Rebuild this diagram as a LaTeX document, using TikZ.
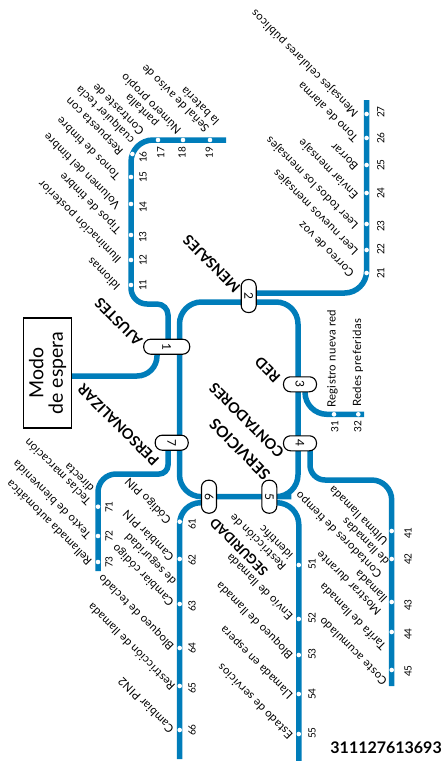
\documentclass[tikz,border=0pt]{standalone}
\usepackage{fontspec}
\setmainfont{Lato}
\usetikzlibrary{backgrounds}
\definecolor{lineblue}{HTML}{007DBA}
\tikzset{
  x=1pt,y=-1pt,
  metro/.style={draw=lineblue,line width=5.5pt,line cap=butt},
  stadium/.style={draw=black,fill=white,line width=1.1pt,rounded corners=7pt,inner sep=0pt,rotate=-90,font=\fontsize{12}{12}\selectfont},
  stn/.style={circle,fill=white,inner sep=0pt,minimum size=4.6pt},
  num/.style={rotate=90,inner sep=0pt,font=\fontsize{10}{10}\selectfont},
  lbl/.style={rotate=135,anchor=west,inner sep=0pt,text height=8pt,text depth=2pt,font=\fontsize{11.4}{12}\selectfont\addfontfeatures{LetterSpace=3}},
  head/.style={rotate=135,anchor=west,inner sep=0pt,text height=10pt,text depth=0pt,font=\fontsize{14.5}{15}\selectfont\bfseries},
  sidelbl/.style={rotate=90,anchor=west,inner sep=0pt,text height=8pt,text depth=2pt,font=\fontsize{11.4}{12}\selectfont\addfontfeatures{LetterSpace=3}},
}
\begin{document}
\begin{tikzpicture}
\useasboundingbox (0,0) rectangle (443,761);
% junction stadiums
\node[stadium,minimum width=15pt,minimum height=46pt] (s1) at (166.7,346.7) {1};
\node[stadium,minimum width=33pt,minimum height=15pt] (s2) at (248.7,296) {2};
\node[stadium,minimum width=15pt,minimum height=33pt] (s3) at (300,384.3) {3};
\node[stadium,minimum width=15pt,minimum height=33pt] (s4) at (300,443.3) {4};
\node[stadium,minimum width=33pt,minimum height=15pt] (s5) at (269.3,496.7) {5};
\node[stadium,minimum width=33pt,minimum height=15pt] (s6) at (209,496.7) {6};
\node[stadium,minimum width=15pt,minimum height=33pt] (s7) at (171.7,442.7) {7};
% standby box
\node[draw=black,line width=1.4pt,rotate=90,minimum width=110pt,minimum height=48pt,inner sep=0pt,align=center,font=\fontsize{19.5}{19.5}\selectfont] (m) at (47.5,373) {Modo\\de espera};
% stations and their numbers
\foreach \n/\x/\y/\tx/\ty in {
 11/131/285/142.7/285,12/131/260/143/260,13/131/235/142.7/237,14/131/204/143/207,15/131/177/143/177,16/132.4/154/143/157,
 17/158/140/160.7/152.7,18/183/140/182/152.7,19/210/140/209.3/152.7,
 21/366.6/273/380.7/273,22/366.6/250/380.7/249,23/366.6/224/380.7/226,24/366.6/193/380.7/193,25/366.6/165/380.7/165,26/366.6/138/380.7/138,27/366.6/114/380.7/112,
 31/334/414.3/334.7/426.7,32/358.3/414.3/357.7/426.7,
 41/391.7/531/408/533,42/391.7/559/408/559,43/391.7/602/408/605,44/391.7/632/408/634,45/391.7/670/408/671,
 51/298.8/565/312/564,52/298.8/619/312/618,53/298.8/655/312/654,54/298.8/694/312/694,55/298.8/734/312/733,
 61/179.7/521.7/192/524,62/179.7/559/192/560,63/179.7/604/192/606,64/179.7/648/192/648,65/179.7/686/192/688,66/179.7/730/192/730,
 71/98/506.7/109/507,72/98/536/109/536,73/98/562/109/562}{
  \node[stn] (n\n) at (\x,\y) {};
  \node[num] (t\n) at (\tx,\ty) {\n};
}
% lines
\begin{scope}[on background layer]
\coordinate (ringNW) at (179.5,302);
\coordinate (ringNE) at (298,302);
\coordinate (ringSE) at (298,496.7);
\coordinate (ringSW) at (179.5,496.7);
\draw[metro,rounded corners=22pt] (s6.center) -- (ringSW) -- (ringNW) -- (ringNE) -- (ringSE) -- (s5.center) -- (s6.center);
\coordinate (modoturn) at (157,376);
\draw[metro,rounded corners=20pt] (s1.center) ++(-9.7,0) -- (modoturn) -- (m.south |- modoturn);
\draw[metro] (s1.center) ++(1.3,0) [rounded corners=11pt] -- (168,304) [rounded corners=16pt] -- (131,304) [rounded corners=22pt] -- (131,140) -- (226,140);
\draw[metro,rounded corners=22pt] (s2.center) ++(0,-3) -- (366.6,293) -- (366.6,100);
\draw[metro,rounded corners=22pt] (s3.center) ++(5,0) -- (305,414.3) -- (364,414.3);
\draw[metro] (s4.center) ++(10,0) [rounded corners=15pt] -- (310,480) [rounded corners=20pt] -- (391.7,480) -- (391.7,686);
\draw[metro,rounded corners=22pt] (s5.center) ++(0,6) -- (298.8,502.7) -- (298.8,761);
\draw[metro,rounded corners=21pt] (s6.center) ++(0,6) -- (179.7,502.7) -- (179.7,759);
\draw[metro] (s7.center) ++(-3.7,0) [rounded corners=9pt] -- (168,474) [rounded corners=18pt] -- (98,474) -- (98,571);
\end{scope}
% section headings
\node[head] (hA) at (140,343) {AJUSTES};
\node[head] (hP) at (156.7,463) {PERSONALIZAR};
\node[head] (hM) at (238,290) {MENSAJES};
\node[head] (hR) at (278,380) {RED};
\node[head] (hC) at (281.7,455) {CONTADORES};
\node[head,font=\fontsize{15.5}{16}\selectfont\bfseries] (hS) at (268,476.7) {SERVICIOS};
\node[head,font=\fontsize{13.2}{14}\selectfont\bfseries] (hG) at (265.5,574) {SEGURIDAD};
% item labels
\node[lbl] (a1) at (119,288) {Idiomas};
\node[lbl] (a2) at (120,261) {Iluminación posterior};
\node[lbl] (a3) at (120,232) {Tipos de timbre};
\node[lbl] (a4) at (119,207) {Volumen del timbre};
\node[lbl] (a5) at (119,178) {Tonos de timbre};
\node[lbl] (a6) at (122,153) {Respuesta con};
\node[lbl] (a6b) at (133,142) {cualquier tecla};
\node[lbl] (a7) at (143,133) {Contraste de};
\node[lbl] (a7b) at (157,125) {pantalla};
\node[lbl] (a8) at (180,132) {Número propio};
\node[lbl] (a9) at (208,130) {Señal de aviso de};
\node[lbl] (a9b) at (218,123) {la batería};
\node[lbl] (b1) at (353,275) {Correo de voz};
\node[lbl] (b2) at (357,253) {Leer nuevos mensajes};
\node[lbl] (b3) at (357,227) {Leer todos los mensajes};
\node[lbl] (b4) at (357,197) {Enviar mensaje};
\node[lbl] (b5) at (357,168) {Borrar};
\node[lbl] (b6) at (357,140) {Tono de alarma};
\node[lbl] (b7) at (357,115) {Mensajes celulares públicos};
\node[sidelbl] (c1) at (332.7,408) {Registro nueva red};
\node[sidelbl] (c2) at (358,407) {Redes preferidas};
\node[lbl] (d1) at (386.7,543) {Ultima llamada};
\node[lbl] (d2) at (380.7,576) {Contadores de tiempo};
\node[lbl] (d2b) at (388,563) {de llamadas};
\node[lbl] (d3) at (380,613) {Mostrar durante};
\node[lbl] (d3b) at (386,600) {llamada};
\node[lbl] (d4) at (385,648) {Tarifa de llamada};
\node[lbl] (d5) at (386,683) {Coste acumulado};
\node[lbl] (e1) at (285,568) {Restricción de};
\node[lbl] (e1b) at (291.7,557) {identific};
\node[lbl] (e2) at (291.7,618) {Envío de llamada};
\node[lbl] (e3) at (291.7,657) {Bloqueo de llamada};
\node[lbl] (e4) at (291.7,697) {Llamada en espera};
\node[lbl] (e5) at (291.7,737) {Estado de servicios};
\node[lbl] (f1) at (170,521.7) {Código PIN};
\node[lbl] (f2) at (172.7,559) {Cambiar PIN};
\node[lbl] (f3) at (172.7,604) {Cambiar código};
\node[lbl] (f3b) at (175,583) {de seguridad};
\node[lbl] (f4) at (172.7,648) {Bloqueo de teclado};
\node[lbl] (f5) at (174,688) {Restricción de llamada};
\node[lbl] (f6) at (172.7,730.7) {Cambiar PIN2};
\node[lbl] (g1) at (90,503) {Teclas marcación};
\node[lbl] (g1b) at (92.7,490) {directa};
\node[lbl] (g2) at (90,536.7) {Texto de bienvenida};
\node[lbl] (g3) at (90.7,563) {Rellamada automática};
% part number
\node[anchor=east,inner sep=0pt,font=\fontsize{16}{16}\selectfont\bfseries] (pn) at (442,748) {311127613693};
\end{tikzpicture}
\end{document}
